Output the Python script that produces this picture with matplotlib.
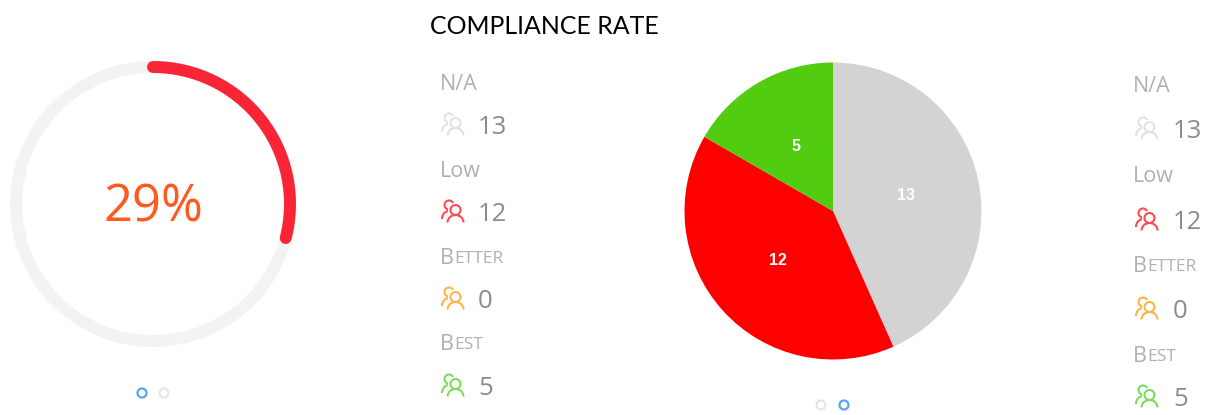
import matplotlib
matplotlib.use('Agg')
import matplotlib.pyplot as plt
from matplotlib.patches import Circle, Arc

# Data
gauge_percent = 29
gauge_label = '29%'
pie_values = [13, 12, 5]
pie_colors = ['#d3d3d3', '#ff0000', '#52cc10']
rows = ['N/A', 'Low', 'Better', 'Best']
row_counts = [13, 12, 0, 5]
row_colors = ['#e2e2e2', '#ff4a55', '#ffb347', '#7ddc5a']
title = 'COMPLIANCE RATE'

W, H = 1217, 415
plt.rcParams['font.family'] = ['Open Sans', 'DejaVu Sans']

fig = plt.figure(figsize=(W / 100, H / 100), dpi=100)
ax = fig.add_axes([0, 0, 1, 1])
ax.set_xlim(0, W)
ax.set_ylim(H, 0)
ax.axis('off')
ax.set_aspect('equal')


def draw_people(x, y, color):
    # two overlapping outlined figures, x, y is the top left of the icon
    lw = 1.5
    ax.add_patch(Circle((x + 8, y + 6), 4.5, fill=False, ec=color, lw=lw))
    ax.add_patch(Arc((x + 8, y + 20), 14, 16, theta1=180, theta2=265, ec=color, lw=lw))
    ax.add_patch(Circle((x + 14.5, y + 11), 5, fill=False, ec='white', lw=3.5, zorder=3))
    ax.add_patch(Circle((x + 14.5, y + 11), 5, fill=False, ec=color, lw=lw, zorder=4))
    ax.add_patch(Arc((x + 14.5, y + 23.5), 16, 15, theta1=180, theta2=360, ec=color, lw=lw, zorder=4))


def draw_label(x, y, text):
    # small caps for the longer labels
    if text in ('Better', 'Best'):
        first = ax.text(x, y, text[0], fontsize=15.5, color='#b0b0b0', va='center')
        fig.canvas.draw()
        box = first.get_window_extent().transformed(ax.transData.inverted())
        ax.text(box.x1, y + 0.8, text[1:].upper(), fontsize=12.5, color='#b0b0b0', va='center')
    else:
        ax.text(x, y, text, fontsize=15.5, color='#b0b0b0', va='center')


def draw_rows(label_x, icon_x, num_x, label_ys, num_ys):
    for i in range(len(rows)):
        draw_label(label_x, label_ys[i] + 2, rows[i])
        draw_people(icon_x, num_ys[i] - 13, row_colors[i])
        ax.text(num_x, num_ys[i] + 2, str(row_counts[i]), fontsize=18.5, color='#8c8c8c',
                va='center', clip_on=True)


def draw_dots(xs, y, active):
    for i, x in enumerate(xs):
        color = '#5aa5ee' if i == active else '#e6e6e6'
        ax.add_patch(Circle((x, y), 4.5, fill=False, ec=color, lw=1.6))


# Gauge on the left
ax.add_patch(Circle((153, 204), 137, fill=False, ec='#f3f3f3', lw=8.6))
sweep = 360 * gauge_percent / 100
ax.add_patch(Arc((153, 204), 274, 274, theta1=-90, theta2=-90 + sweep,
                 ec='#f92536', lw=8.6, capstyle='round', zorder=3))
ax.text(153, 208, gauge_label, fontsize=36.5, color='#ff5a1f', ha='center', va='center')
draw_dots([142, 164], 393, 0)
draw_rows(440, 441, 478, [82, 169, 256, 342], [125, 212, 299, 386])

# Pie on the right, the y axis is flipped so counterclock reads clockwise on screen
wedges, _, autotexts = ax.pie(pie_values, colors=pie_colors, startangle=-90, counterclock=True,
                              center=(833, 211), radius=148.5, frame=True,
                              autopct=lambda p: f'{round(p * sum(pie_values) / 100)}',
                              pctdistance=0.5,
                              textprops=dict(color='white', fontsize=11.5, fontweight='bold',
                                             family='Liberation Sans'))
ax.set_xlim(0, W)
ax.set_ylim(H, 0)
ax.axis('off')
draw_dots([821, 844], 405, 1)
draw_rows(1133, 1135, 1173, [85, 174, 264, 354], [129, 220, 309, 397])

ax.text(544, 26, title, fontsize=17.9, color='black', ha='center', va='center', family='Lato')

fig.savefig('out.png', dpi=100)
